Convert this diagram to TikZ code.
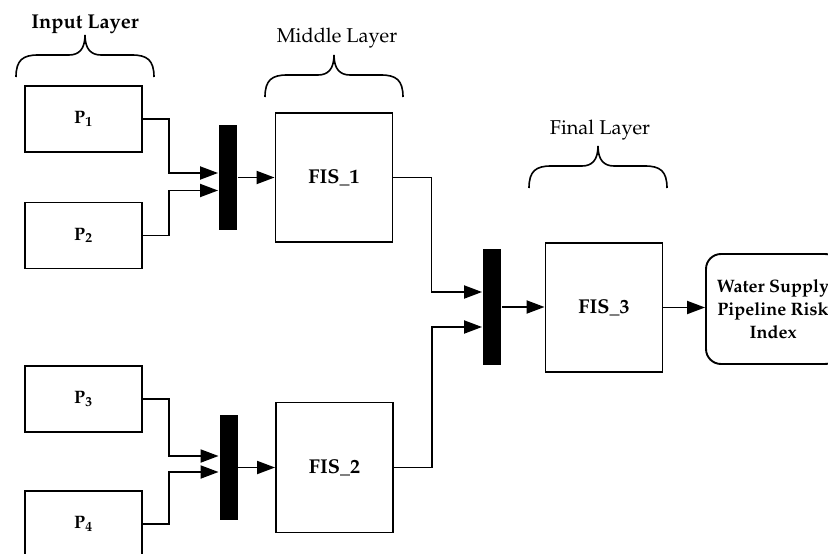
\documentclass[tikz,border=0pt]{standalone}
\usepackage[T1]{fontenc}
\usepackage{mathpazo}
\usepackage{tikz}
\usetikzlibrary{arrows.meta,positioning,calc}

\begin{document}
\begin{tikzpicture}[x=1pt,y=-1pt,
        line width=1.9pt,
        pbox/.style={draw,minimum width=117pt,minimum height=66pt,inner sep=0pt,
            font=\fontsize{18}{22}\selectfont\bfseries},
        fisbox/.style={draw,minimum width=117pt,minimum height=129pt,inner sep=0pt,
            font=\fontsize{20}{24}\selectfont\bfseries},
        mux/.style={fill=black,draw=none,minimum width=18pt,inner sep=0pt},
        outbox/.style={draw,rounded corners=15pt,minimum width=134pt,minimum height=110pt,
            inner sep=0pt,align=center,font=\fontsize{18}{23}\selectfont\bfseries},
        layertxt/.style={font=\fontsize{20}{24}\selectfont},
        arr/.style={-{Triangle[length=18pt,width=13pt]}},
        layerbrace/.pic={
            \draw[line width=1.6pt] (-69,42) .. controls (-69,25) and (-62,20) .. (-47,20)
                -- (-16,20) .. controls (-6,20) and (0,14) .. (0,0)
                .. controls (0,14) and (6,20) .. (16,20)
                -- (47,20) .. controls (62,20) and (69,25) .. (69,42);
        }]

    \useasboundingbox (0,0) rectangle (828,554);

    % Input boxes
    \foreach \i/\y in {1/119,2/235.5,3/399,4/524} {
        \node[pbox] (p\i) at (83.5,\y) {P$_{\mathbf{\i}}$};
    }

    % Combiner bars
    \node[mux,minimum height=105pt] (bar1) at (228,177.5) {};
    \node[mux,minimum height=105pt] (bar3) at (228.5,467.5) {};
    \node[mux,minimum height=116pt] (bar2) at (492,307) {};

    % FIS blocks
    \node[fisbox] (fis1) at (334,177.5) {FIS\_1};
    \node[fisbox,minimum height=130pt] (fis2) at (334.5,467.5) {FIS\_2};
    \node[fisbox] (fis3) at (604,307.5) {FIS\_3};

    % Output
    \node[outbox] (out) at (773,309) {Water Supply\\Pipeline Risk\\Index};

    % Layer labels and braces
    \node[layertxt,font=\fontsize{20}{24}\selectfont\bfseries] (lin) at (85,24) {Input Layer};
    \node[layertxt] (lmid) at (337,38) {Middle Layer};
    \node[layertxt] (lfin) at (600,130) {Final Layer};
    \pic at (85,35) {layerbrace};
    \pic at (334,55) {layerbrace};
    \pic at (598,146) {layerbrace};

    % Inputs to bars
    \draw[arr] (p1.east) -- ++(26,0) |- ([yshift=4.5pt]bar1.west);
    \draw[arr] (p2.east) -- ++(26,0) |- ([yshift=-13pt]bar1.west);
    \draw[arr] (p3.east) -- ++(26,0) |- ([yshift=11.5pt]bar3.west);
    \draw[arr] (p4.east) -- ++(26,0) |- ([yshift=-4.5pt]bar3.west);

    % Bars to FIS
    \draw[arr] (bar1.east) -- (fis1.west);
    \draw[arr] (bar3.east) -- (fis2.west);
    \draw[arr] (fis1.east) -- ++(38,0) |- ([yshift=15pt]bar2.west);
    \draw[arr] (fis2.east) -- ++(38,0) |- ([yshift=-20pt]bar2.west);
    \draw[arr] (bar2.east) -- (bar2.east -| fis3.west);
    \draw[arr] (fis3.east) -- (fis3.east -| out.west);
\end{tikzpicture}
\end{document}
